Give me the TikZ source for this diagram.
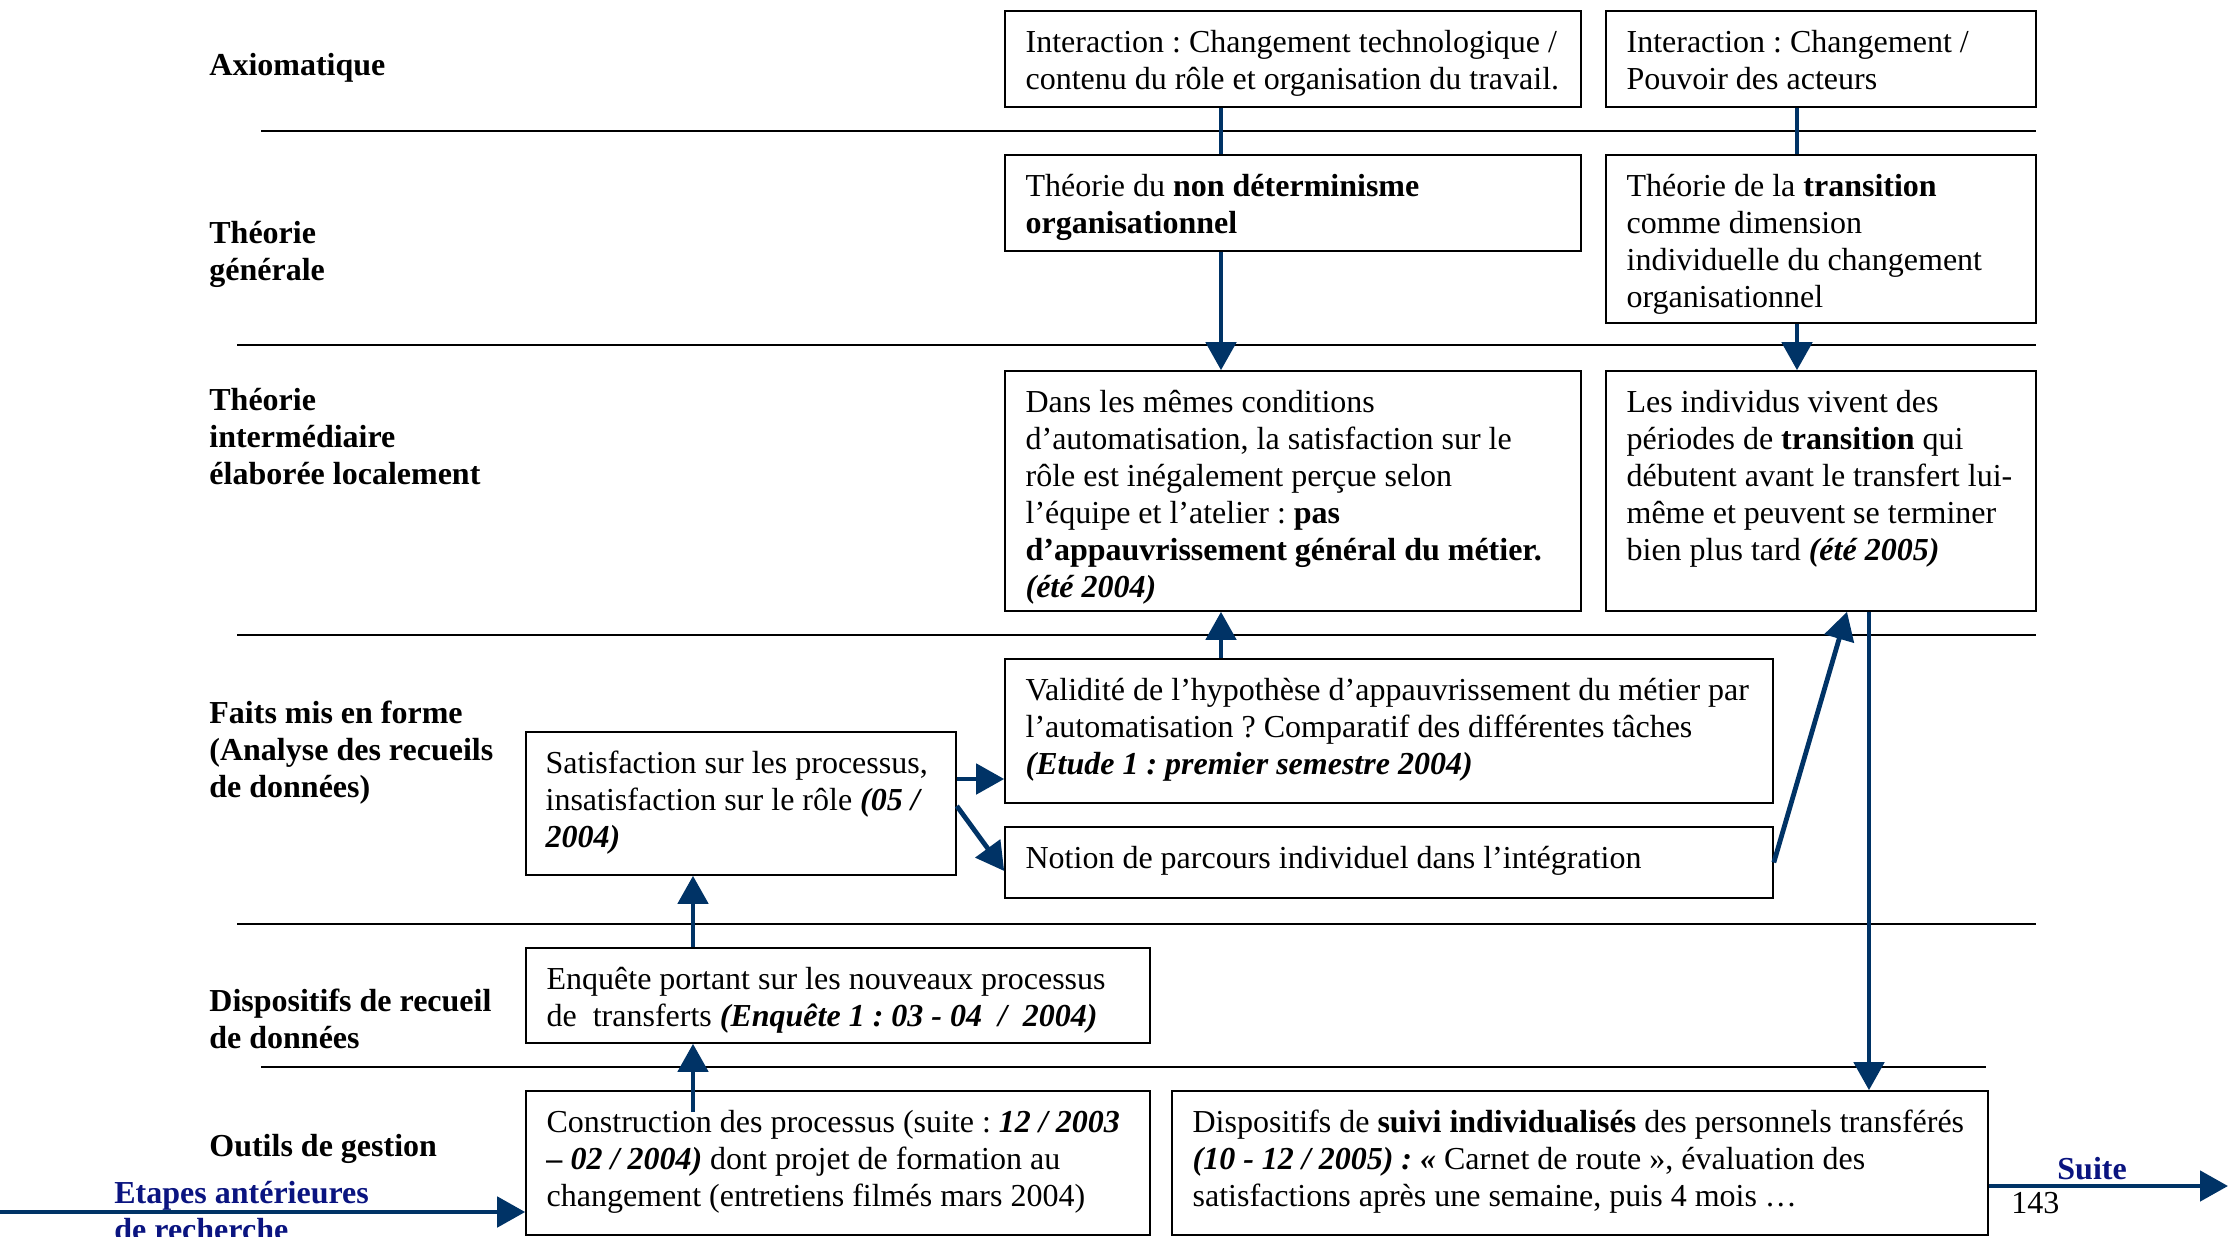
\documentclass[tikz,border=0pt]{standalone}
\usepackage{fontspec}
\setmainfont{Liberation Serif}
\usetikzlibrary{arrows.meta,calc,fit}
\definecolor{arrblue}{RGB}{0,51,102}
\definecolor{navy}{RGB}{10,20,128}
\newcommand{\fs}{\rule{0pt}{12pt}}
\frenchspacing
\begin{document}
\begin{tikzpicture}[x=0.5pt,y=-0.5pt,
  every node/.style={font=\fontsize{16}{18.5}\selectfont\frenchspacing},
  box/.style={draw=black,line width=0.8pt,inner sep=0pt,fit={#1}},
  txt/.style={anchor=north west,inner sep=0pt,align=left},
  lab/.style={anchor=north west,inner sep=0pt,align=left,font=\fontsize{16}{18.5}\selectfont\bfseries\frenchspacing},
  one/.style={anchor=base west,inner sep=0pt},
  lnk/.style={draw=arrblue,line width=2.4pt},
  arr/.style={draw=arrblue,line width=2.4pt,-{Triangle[width=15pt,length=14pt]}},
  sep/.style={draw=black,line width=1pt}]
\clip (0,0) rectangle (2228,1237);
\fill[white] (0,0) rectangle (2228,1237);

% separators
\draw[sep] (261,131) -- (2036,131);
\draw[sep] (237,345) -- (2036,345);
\draw[sep] (237,635) -- (2036,635);
\draw[sep] (237,924) -- (2036,924);
\draw[sep] (261,1067) -- (1986,1067);

% row labels
\node[lab] (lAx) at (209,51) {\fs Axiomatique};
\node[lab] (lTg) at (209,219) {\fs Théorie\\générale};
\node[lab] (lTi) at (209,386) {\fs Théorie\\intermédiaire\\élaborée localement};
\node[lab] (lFa) at (209,699) {\fs Faits mis en forme\\(Analyse des recueils\\de données)};
\node[lab] (lDi) at (209,987) {\fs Dispositifs de recueil\\de données};
\node[lab] (lOu) at (209,1132) {\fs Outils de gestion};

% boxes
\node[box={(1005,11) (1581,107)}] (A1) {};
\node[box={(1606,11) (2036,107)}] (A2) {};
\node[box={(1005,155) (1581,251)}] (T1) {};
\node[box={(1606,155) (2036,323)}] (T2) {};
\node[box={(1005,371) (1581,611)}] (I1) {};
\node[box={(1606,371) (2036,611)}] (I2) {};
\node[box={(1005,659) (1773,803)}] (F1) {};
\node[box={(1005,827) (1773,898)}] (F2) {};
\node[box={(526,732) (956,875)}] (S) {};
\node[box={(526,948) (1150,1043)}] (D) {};
\node[box={(526,1091) (1150,1235)}] (O1) {};
\node[box={(1172,1091) (1988,1235)}] (O2) {};

% box texts
\node[txt] (tA1) at ($(A1.north west)+(21,18)$) {\fs Interaction : Changement technologique /\\contenu du rôle et organisation du travail.};
\node[txt] (tA2) at ($(A2.north west)+(21,18)$) {\fs Interaction : Changement /\\Pouvoir des acteurs};
\node[txt] (tT1) at ($(T1.north west)+(21,18)$) {\fs Théorie du \textbf{non déterminisme}\\\textbf{organisationnel}};
\node[txt] (tT2) at ($(T2.north west)+(21,18)$) {\fs Théorie de la \textbf{transition}\\comme dimension\\individuelle du changement\\organisationnel};
\node[txt] (tI1) at ($(I1.north west)+(21,18)$) {\fs Dans les mêmes conditions\\d’automatisation, la satisfaction sur le\\rôle est inégalement perçue selon\\l’équipe et l’atelier : \textbf{pas}\\\textbf{d’appauvrissement général du métier.}\\\textbf{\textit{(été 2004)}}};
\node[txt] (tI2) at ($(I2.north west)+(21,18)$) {\fs Les individus vivent des\\périodes de \textbf{transition} qui\\débutent avant le transfert lui-\\même et peuvent se terminer\\bien plus tard \textbf{\textit{(été 2005)}}};
\node[txt] (tF1) at ($(F1.north west)+(21,18)$) {\fs Validité de l’hypothèse d’appauvrissement du métier par\\l’automatisation ? Comparatif des différentes tâches\\\textbf{\textit{(Etude 1 : premier semestre 2004)}}};
\node[txt] (tF2) at ($(F2.north west)+(21,18)$) {\fs Notion de parcours individuel dans l’intégration};
\node[txt] (tS) at ($(S.north west)+(20,18)$) {\fs Satisfaction sur les processus,\\insatisfaction sur le rôle \textbf{\textit{(05 /}}\\\textbf{\textit{2004)}}};
\node[txt] (tD) at ($(D.north west)+(21,18)$) {\fs Enquête portant sur les nouveaux processus\\de\ \ transferts \textbf{\textit{(Enquête 1 : 03 - 04\ \ /\ \ 2004)}}};
\node[txt] (tO1) at ($(O1.north west)+(21,18)$) {\fs Construction des processus (suite : \textbf{\textit{12 / 2003}}\\\textbf{\textit{– 02 / 2004)}} dont projet de formation au\\changement (entretiens filmés mars 2004)};
\node[txt] (tO2) at ($(O2.north west)+(21,18)$) {\fs Dispositifs de \textbf{suivi individualisés} des personnels transférés\\\textbf{\textit{(10 - 12 / 2005) : «}} Carnet de route », évaluation des\\satisfactions après une semaine, puis 4 mois …};

% side labels
\node[lab,text=navy] (lEt) at (114,1179) {\fs Etapes antérieures\\de recherche};
\node[one,text=navy,font=\fontsize{16}{18.5}\selectfont\bfseries] (lSu) at (2057,1179) {Suite};
\node[one] (pg) at (2011,1213) {143};

% helper coordinates
\coordinate (cx1) at (1221,0);
\coordinate (cx2) at (1797,0);
\coordinate (cD) at (693,0);
\coordinate (cI2) at (1869,0);
\coordinate (cF) at (1847,0);
\coordinate (yS1) at (0,779);
\coordinate (yS2) at (0,806);
\coordinate (yS3) at (0,871);
\coordinate (etStart) at (0,1212);
\coordinate (suEnd) at (2228,1186);

% connectors
\draw[lnk] (A1.south -| cx1) -- (T1.north -| cx1);
\draw[lnk] (A2.south -| cx2) -- (T2.north -| cx2);
\draw[arr] (T1.south -| cx1) -- (I1.north -| cx1);
\draw[arr] (T2.south -| cx2) -- (I2.north -| cx2);
\draw[arr] (F1.north -| cx1) -- (I1.south -| cx1);
\draw[arr] (S.east |- yS1) -- (F1.west |- yS1);
\draw[arr] (S.east |- yS2) -- (F2.west |- yS3);
\draw[arr] (F2.east) -- (I2.south -| cF);
\draw[arr] (I2.south -| cI2) -- (O2.north -| cI2);
\draw[arr] (D.north -| cD) -- (S.south -| cD);
\draw[arr] ($(O1.north -| cD)+(0,22)$) -- (D.south -| cD);
\draw[arr] (etStart) -- (O1.west |- etStart);
\draw[arr] (O2.east |- suEnd) -- (suEnd);
\end{tikzpicture}
\end{document}
